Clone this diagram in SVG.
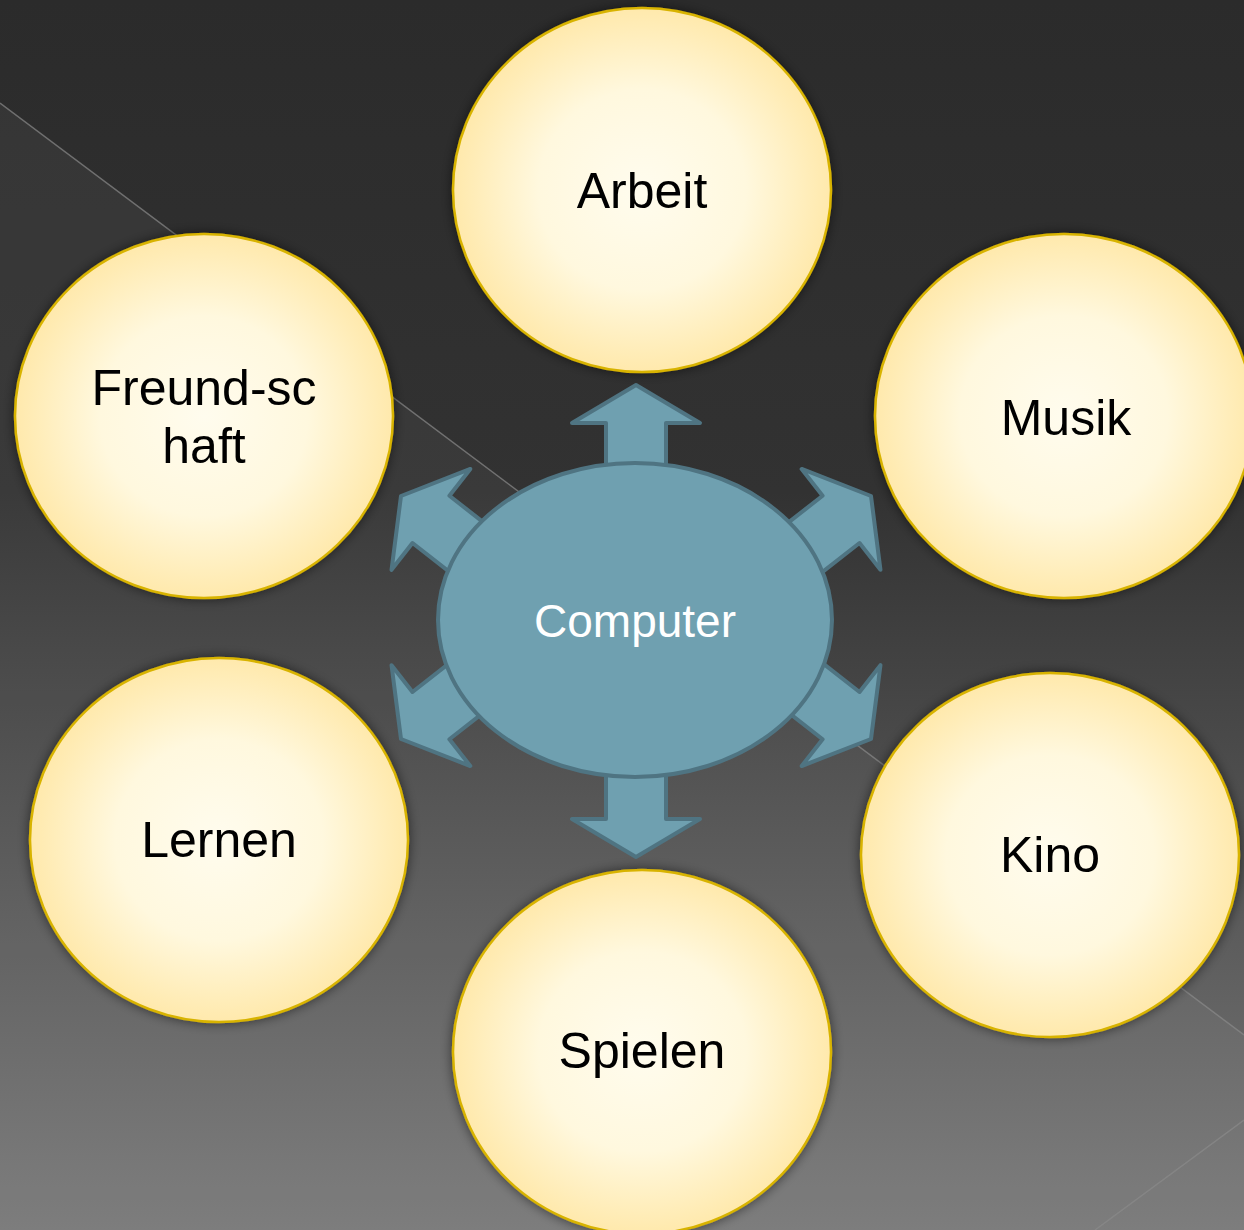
<svg xmlns="http://www.w3.org/2000/svg" width="1244" height="1230" viewBox="0 0 1244 1230">
  <defs>
    <linearGradient id="bg" x1="0" y1="0" x2="0" y2="1">
      <stop offset="0" stop-color="#2b2b2b"/>
      <stop offset="0.4" stop-color="#323232"/>
      <stop offset="1" stop-color="#787878"/>
    </linearGradient>
    <radialGradient id="bubble" cx="0.5" cy="0.5" r="0.5">
      <stop offset="0" stop-color="#fffcee"/>
      <stop offset="0.55" stop-color="#fff8de"/>
      <stop offset="1" stop-color="#ffe9ac"/>
    </radialGradient>
    <filter id="shadow" x="-20%" y="-20%" width="140%" height="140%">
      <feDropShadow dx="0" dy="0" stdDeviation="6" flood-color="#000" flood-opacity="0.55"/>
    </filter>
    <path id="arrow" d="M0,0 L64,38 L30,38 L30,110 L-30,110 L-30,38 L-64,38 Z"/>
  </defs>
  <style>
    .bubble { fill: url(#bubble); stroke: #d8b300; stroke-width: 2.5; filter: url(#shadow); }
    .label { font-family: "Liberation Sans", Arial, sans-serif; font-size: 50px; fill: #000; text-anchor: middle; }
    .arr { fill: #6fa0b0; stroke: #4f7482; stroke-width: 4; stroke-linejoin: round; }
    .center { fill: #6fa0b0; stroke: #4f7482; stroke-width: 4; }
    .ctext { font-family: "Liberation Sans", Arial, sans-serif; font-size: 46px; fill: #fff; text-anchor: middle; }
    .deco { stroke: #8a8a8a; stroke-width: 1.5; fill: none; opacity: 0.7; }
  </style>

  <g id="background">
    <rect x="0" y="0" width="1244" height="1230" fill="url(#bg)"/>
    <polygon points="0,103 1244,1035 1244,1230 0,1230" fill="#ffffff" opacity="0.045"/>
    <line class="deco" x1="0" y1="103" x2="1244" y2="1035"/>
    <line class="deco" x1="1244" y1="1120" x2="1095" y2="1230"/>
  </g>

  <g id="connectors">
    <use href="#arrow" class="arr" transform="translate(636,385)"/>
    <use href="#arrow" class="arr" transform="translate(636,857) rotate(180)"/>
    <use href="#arrow" class="arr" transform="translate(401,496) rotate(-52)"/>
    <use href="#arrow" class="arr" transform="translate(871,496) rotate(52)"/>
    <use href="#arrow" class="arr" transform="translate(401,739) rotate(-128)"/>
    <use href="#arrow" class="arr" transform="translate(871,739) rotate(128)"/>
  </g>

  <g id="node-computer">
    <ellipse class="center" cx="635" cy="620" rx="197" ry="157"/>
    <text class="ctext" x="635" y="637">Computer</text>
  </g>

  <g id="node-arbeit">
    <ellipse class="bubble" cx="642" cy="190" rx="189" ry="182"/>
    <text class="label" x="642" y="208">Arbeit</text>
  </g>

  <g id="node-musik">
    <ellipse class="bubble" cx="1064" cy="416" rx="189" ry="182"/>
    <text class="label" x="1066" y="435">Musik</text>
  </g>

  <g id="node-freundschaft">
    <ellipse class="bubble" cx="204" cy="416" rx="189" ry="182"/>
    <text class="label" x="204" y="405">Freund-sc</text>
    <text class="label" x="204" y="463">haft</text>
  </g>

  <g id="node-lernen">
    <ellipse class="bubble" cx="219" cy="840" rx="189" ry="182"/>
    <text class="label" x="219" y="857">Lernen</text>
  </g>

  <g id="node-kino">
    <ellipse class="bubble" cx="1050" cy="855" rx="189" ry="182"/>
    <text class="label" x="1050" y="872">Kino</text>
  </g>

  <g id="node-spielen">
    <ellipse class="bubble" cx="642" cy="1052" rx="189" ry="182"/>
    <text class="label" x="642" y="1068">Spielen</text>
  </g>
</svg>
